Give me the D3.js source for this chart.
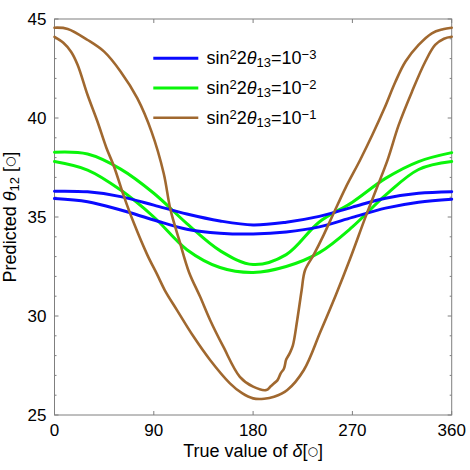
<!DOCTYPE html>
<html>
<head>
<meta charset="utf-8">
<script src="https://cdn.jsdelivr.net/npm/d3@7"></script>
<style>
  body { margin: 0; background: #fff; }
  svg { display: block; font-family: "Liberation Sans", Arial, sans-serif; }
</style>
</head>
<body>
<div id="chart"></div>
<script>
// values
const deltaGrid = [0, 30, 60, 90, 120, 150, 180, 210, 240, 270, 300, 330, 360];
const blueUpper  = [36.3, 36.27, 36.03, 35.6, 35.15, 34.8, 34.6, 34.74, 35.03, 35.5, 35.95, 36.2, 36.28];
const blueLower  = [35.93, 35.77, 35.35, 34.85, 34.38, 34.18, 34.14, 34.24, 34.5, 34.98, 35.45, 35.75, 35.9];
const greenUpper = [38.27, 38.18, 37.42, 36.2, 34.67, 33.3, 32.6, 33.1, 34.75, 35.75, 36.95, 37.8, 38.25];
const greenLower = [37.8, 37.37, 36.36, 35.0, 33.35, 32.45, 32.2, 32.5, 33.2, 34.5, 36.1, 37.4, 37.8];

const brownUpperDelta = [0, 12, 30, 45, 60, 75, 88, 99, 105, 113, 122, 132, 141, 153, 168, 180, 192, 196, 199,
  202, 205, 208, 210, 213, 216, 220, 224, 227, 235, 244, 253, 264, 277, 288, 299, 309, 318, 330, 342, 352, 360];
const brownUpper = [44.56, 44.5, 43.94, 43.35, 42.34, 41.0, 39.3, 37.2, 35.4, 33.84, 32.2, 30.97, 29.8, 28.45, 26.93,
  26.43, 26.26, 26.45, 26.6, 26.75, 27.1, 27.35, 27.8, 28.1, 28.5, 29.8, 31.3, 32.3, 33.1, 34.1, 35.19, 36.5, 37.88,
  39.14, 40.49, 41.83, 42.84, 43.69, 44.28, 44.48, 44.56];
const brownLowerDelta = [0, 8, 15, 21, 30, 39, 47, 54, 63, 72, 84, 93, 100, 111, 126, 141, 159, 170, 180, 190, 199,
  211, 226, 241, 255, 268, 282, 292, 302, 312, 324, 336, 345, 353, 360];
const brownLower = [44.1, 43.8, 43.35, 42.68, 41.16, 39.81, 38.5, 37.54, 36.03, 34.68, 33.1, 32.1, 31.3, 30.3, 28.96,
  27.78, 26.6, 26.1, 25.84, 25.82, 25.92, 26.26, 27.27, 29.2, 31.06, 32.9, 35.02, 36.45, 37.9, 39.65, 41.33, 42.84,
  43.69, 44.0, 44.1];

const xTicks = [0, 90, 180, 270, 360];
const yTicks = [25, 30, 35, 40, 45];
const legendExp = ['−3', '−2', '−1'];

const COLORS = { blue: '#0a0aff', green: '#0af50a', brown: '#a0682f' };
const AXIS = '#7f7f7f';

const W = 470, H = 470;
const M = { top: 19, right: 18.3, bottom: 55, left: 54.5 };
const iw = W - M.left - M.right, ih = H - M.top - M.bottom;

const svg = d3.select('#chart').append('svg').attr('width', W).attr('height', H);
const g = svg.append('g').attr('transform', `translate(${M.left},${M.top})`);

const x = d3.scaleLinear().domain([0, 360]).range([0, iw]);
const y = d3.scaleLinear().domain([25, 45]).range([ih, 0]);

// frame
g.append('rect').attr('width', iw).attr('height', ih)
  .attr('fill', 'none').attr('stroke', AXIS).attr('stroke-width', 1);

// ticks (inward, mirrored)
const yMinor = d3.range(25, 45.01, 1);
yMinor.forEach(v => {
  const len = v % 5 === 0 ? 4 : 2;
  g.append('line').attr('x1', 0).attr('x2', len).attr('y1', y(v)).attr('y2', y(v)).attr('stroke', AXIS);
  g.append('line').attr('x1', iw).attr('x2', iw - len).attr('y1', y(v)).attr('y2', y(v)).attr('stroke', AXIS);
});
xTicks.forEach(v => {
  g.append('line').attr('x1', x(v)).attr('x2', x(v)).attr('y1', ih).attr('y2', ih - 4).attr('stroke', AXIS);
  g.append('line').attr('x1', x(v)).attr('x2', x(v)).attr('y1', 0).attr('y2', 4).attr('stroke', AXIS);
});

// tick labels
g.selectAll('.ylab').data(yTicks).join('text')
  .attr('x', -8).attr('y', d => y(d)).attr('dy', '0.36em')
  .attr('text-anchor', 'end').style('font-size', '17px').text(d => d);
g.selectAll('.xlab').data(xTicks).join('text')
  .attr('x', d => x(d)).attr('y', ih + 21)
  .attr('text-anchor', 'middle').style('font-size', '17px').text(d => d);

// axis titles
const xt = g.append('text').attr('x', iw / 2).attr('y', ih + 42)
  .attr('text-anchor', 'middle').style('font-size', '18px');
xt.append('tspan').text('True value of ');
xt.append('tspan').style('font-style', 'italic').text('δ');
xt.append('tspan').text('[');
xt.append('tspan').attr('baseline-shift', '15%').style('font-size', '12px').style('font-family', 'DejaVu Sans').text('○');
xt.append('tspan').text(']');

const yt = svg.append('text')
  .attr('transform', `translate(16,${M.top + ih / 2}) rotate(-90)`)
  .attr('text-anchor', 'middle').style('font-size', '18px');
yt.append('tspan').text('Predicted ');
yt.append('tspan').style('font-style', 'italic').text('θ');
yt.append('tspan').attr('baseline-shift', '-25%').style('font-size', '13px').text('12');
yt.append('tspan').text(' [');
yt.append('tspan').attr('baseline-shift', '15%').style('font-size', '12px').style('font-family', 'DejaVu Sans').text('○');
yt.append('tspan').text(']');

// curves
const line = d3.line().x(d => x(d[0])).y(d => y(d[1])).curve(d3.curveCatmullRom.alpha(0.5));
const series = [
  { c: COLORS.green, w: 3, pts: d3.zip(deltaGrid, greenUpper) },
  { c: COLORS.green, w: 3, pts: d3.zip(deltaGrid, greenLower) },
  { c: COLORS.blue,  w: 3, pts: d3.zip(deltaGrid, blueUpper) },
  { c: COLORS.blue,  w: 3, pts: d3.zip(deltaGrid, blueLower) },
  { c: COLORS.brown, w: 2.6, pts: d3.zip(brownUpperDelta, brownUpper) },
  { c: COLORS.brown, w: 2.6, pts: d3.zip(brownLowerDelta, brownLower) }
];
g.append('g').selectAll('path').data(series).join('path')
  .attr('d', d => line(d.pts))
  .attr('fill', 'none').attr('stroke', d => d.c).attr('stroke-width', d => d.w)
  .attr('stroke-linejoin', 'round').attr('stroke-linecap', 'round');

// legend
const legendColors = [COLORS.blue, COLORS.green, COLORS.brown];
legendColors.forEach((c, i) => {
  const ly = 58.3 + i * 29.7;
  svg.append('line').attr('x1', 153.3).attr('x2', 198.3).attr('y1', ly).attr('y2', ly)
    .attr('stroke', c).attr('stroke-width', i === 2 ? 2.6 : 3);
  const t = svg.append('text').attr('x', 206.5).attr('y', ly + 6).style('font-size', '18px');
  t.append('tspan').text('sin');
  t.append('tspan').attr('baseline-shift', '40%').style('font-size', '13px').text('2');
  t.append('tspan').text('2');
  t.append('tspan').style('font-style', 'italic').text('θ');
  t.append('tspan').attr('baseline-shift', '-25%').style('font-size', '13px').text('13');
  t.append('tspan').text('=10');
  t.append('tspan').attr('baseline-shift', '40%').style('font-size', '13px').text(legendExp[i]);
});
</script>
</body>
</html>
